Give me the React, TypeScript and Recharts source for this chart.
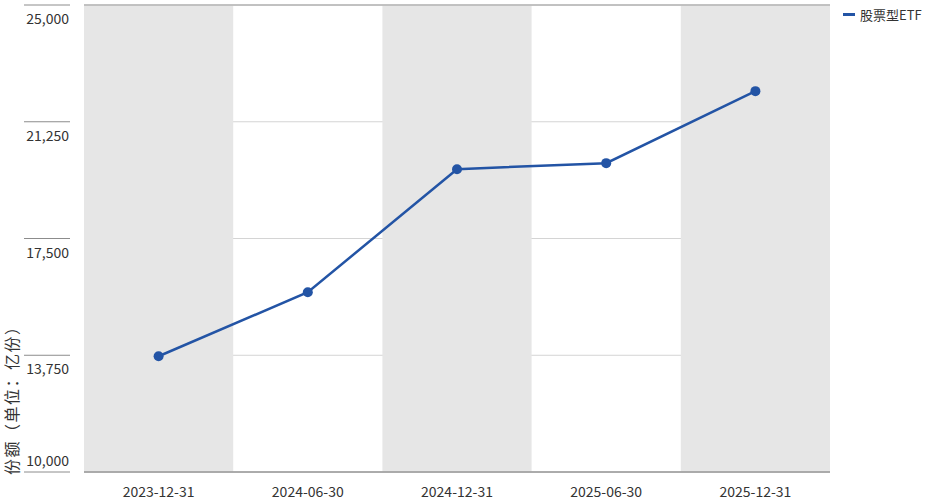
import React from "react";
import {
    LineChart,
    Line,
    XAxis,
    YAxis,
    CartesianGrid,
    ReferenceArea,
    ReferenceLine,
} from "recharts";

const dates = ["2023-12-31", "2024-06-30", "2024-12-31", "2025-06-30", "2025-12-31"];
const shares = [13718, 15774, 19727, 19920, 22233];
const yTicks = [10000, 13750, 17500, 21250, 25000];
const shadedDates = ["2023-12-31", "2024-12-31", "2025-12-31"];

const seriesName = "股票型ETF";
const yTitle = "份额（单位：亿份）";

const FONT = '"Noto Sans CJK SC", "Noto Sans", sans-serif';
const BLUE = "#2354a5";
const TEXT = "#333333";

const data = dates.map((d, i) => ({ date: d, value: shares[i] }));

const YTick = (props: any) => {
    const { y, payload } = props;
    const isBottom = payload.value === yTicks[0];
    return (
        <g>
            <line x1={24} x2={70} y1={y} y2={y} stroke="#8c8c8c" strokeWidth={1} />
            <text
                x={69}
                y={isBottom ? y - 6 : y + 19}
                textAnchor="end"
                fill={TEXT}
                fontSize={14}
                fontFamily={FONT}
            >
                {payload.value.toLocaleString("en-US")}
            </text>
        </g>
    );
};

const YTitle = (props: any) => {
    const { viewBox } = props;
    const cy = viewBox.y + viewBox.height;
    return (
        <text
            x={18}
            y={cy + 3}
            transform={`rotate(-90, 18, ${cy + 3})`}
            textAnchor="start"
            fill={TEXT}
            fontSize={16}
            letterSpacing={1.5}
            fontFamily={FONT}
        >
            {yTitle}
        </text>
    );
};

export default function App() {
    return (
        <div style={{ position: "absolute", left: 0, top: 0, width: 940, height: 502, background: "#fff" }}>
            <LineChart
                width={940}
                height={502}
                data={data}
                margin={{ top: 5, right: 110, bottom: 0, left: 0 }}
            >
                {shadedDates.map((d) => (
                    <ReferenceArea
                        key={d}
                        x1={d}
                        x2={d}
                        fill="#e6e6e6"
                        fillOpacity={1}
                        stroke="none"
                        ifOverflow="visible"
                    />
                ))}
                <CartesianGrid vertical={false} stroke="#d4d4d4" strokeWidth={1} />
                <ReferenceLine y={25000} stroke="#9a9a9a" strokeWidth={1} />
                <XAxis
                    dataKey="date"
                    scale="band"
                    tickLine={false}
                    axisLine={{ stroke: "#6e6e6e", strokeWidth: 1 }}
                    tickMargin={9}
                    tick={{ fill: TEXT, fontSize: 14, fontFamily: FONT }}
                    interval={0}
                />
                <YAxis
                    width={84}
                    domain={[10000, 25000]}
                    ticks={yTicks}
                    interval={0}
                    axisLine={false}
                    tickLine={false}
                    tick={<YTick />}
                    label={<YTitle />}
                />
                <Line
                    type="linear"
                    dataKey="value"
                    name={seriesName}
                    stroke={BLUE}
                    strokeWidth={2.5}
                    dot={{ r: 5, fill: BLUE, stroke: BLUE, strokeWidth: 0 }}
                    activeDot={false}
                    isAnimationActive={false}
                />
            </LineChart>
            <div
                style={{
                    position: "absolute",
                    left: 843,
                    top: 5,
                    display: "flex",
                    alignItems: "center",
                    fontFamily: FONT,
                    fontSize: 13,
                    color: TEXT,
                    whiteSpace: "nowrap",
                }}
            >
                <span style={{ display: "inline-block", width: 12, height: 3, background: BLUE, marginRight: 5 }} />
                <span>{seriesName}</span>
            </div>
        </div>
    );
}
